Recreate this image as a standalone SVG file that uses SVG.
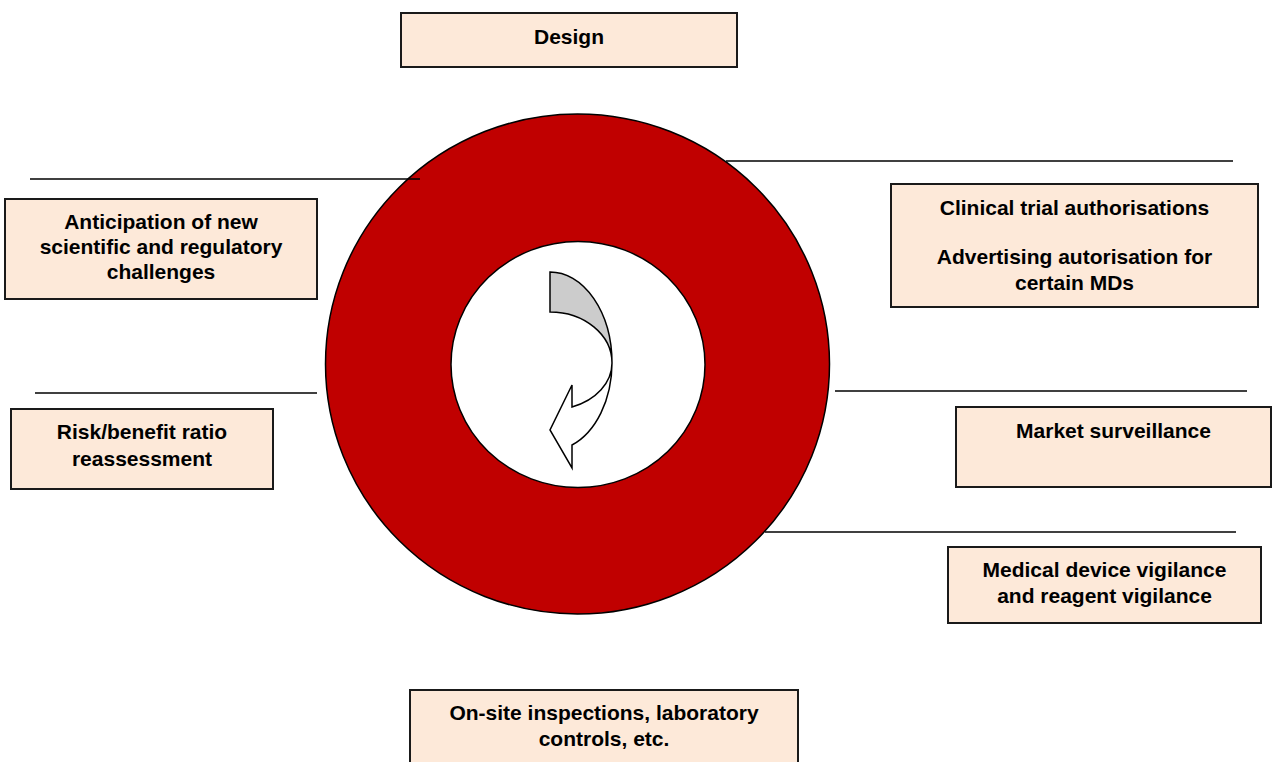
<svg xmlns="http://www.w3.org/2000/svg" width="1272" height="762" viewBox="0 0 1272 762">
<style>
.box{fill:#fde9d9;stroke:#1a1a1a;stroke-width:2}
.t{font-family:"Liberation Sans",Arial,sans-serif;font-weight:bold;font-size:21px;fill:#000;text-anchor:middle}
.ln{stroke:#000;stroke-width:1.6;fill:none}
</style>
<rect width="1272" height="762" fill="#fff"/>
<g id="ring">
<ellipse cx="577.5" cy="364" rx="252" ry="250" fill="#c00000" stroke="#000" stroke-width="1.5"/>
<ellipse cx="578" cy="364.5" rx="127" ry="123" fill="#fff" stroke="#000" stroke-width="1.5"/>
</g>
<g id="connectors">
<line class="ln" x1="30" y1="179" x2="420" y2="179"/>
<line class="ln" x1="726" y1="161" x2="1233" y2="161"/>
<line class="ln" x1="35" y1="393" x2="317" y2="393"/>
<line class="ln" x1="835" y1="391" x2="1247" y2="391"/>
<line class="ln" x1="765" y1="532" x2="1236" y2="532"/>
</g>
<g id="arrow" stroke="#000" stroke-width="1.5" stroke-linejoin="miter">
<path d="M550,272 A62,91 0 0 1 612,363 A62,51 0 0 0 550,312 Z" fill="#cccccc"/>
<path d="M612,363 A62,88 0 0 1 572,445 L572,468 L550,430 L572,385 L572,407 A62,47 0 0 0 612,363 Z" fill="#fff"/>
</g>
<g id="design">
<rect class="box" x="401" y="13" width="336" height="54"/>
<text class="t" x="569" y="44">Design</text>
</g>
<g id="clinical">
<rect class="box" x="891" y="184" width="367" height="123"/>
<text class="t" x="1074.5" y="215">Clinical trial authorisations</text>
<text class="t" x="1074.5" y="264">Advertising autorisation for</text>
<text class="t" x="1074.5" y="290">certain MDs</text>
</g>
<g id="anticipation">
<rect class="box" x="5" y="199" width="312" height="100"/>
<text class="t" x="161" y="229">Anticipation of new</text>
<text class="t" x="161" y="254">scientific and regulatory</text>
<text class="t" x="161" y="279">challenges</text>
</g>
<g id="risk">
<rect class="box" x="11" y="409" width="262" height="80"/>
<text class="t" x="142" y="439">Risk/benefit ratio</text>
<text class="t" x="142" y="466">reassessment</text>
</g>
<g id="market">
<rect class="box" x="956" y="407" width="315" height="80"/>
<text class="t" x="1113.5" y="438">Market surveillance</text>
</g>
<g id="vigilance">
<rect class="box" x="948" y="547" width="313" height="76"/>
<text class="t" x="1104.5" y="577">Medical device vigilance</text>
<text class="t" x="1104.5" y="603">and reagent vigilance</text>
</g>
<g id="inspections">
<rect class="box" x="410" y="690" width="388" height="80"/>
<text class="t" x="604" y="720">On-site inspections, laboratory</text>
<text class="t" x="604" y="746">controls, etc.</text>
</g>
</svg>
